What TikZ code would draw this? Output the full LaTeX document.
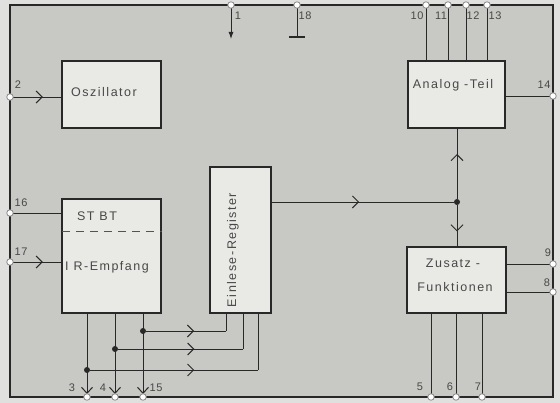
\documentclass[tikz,border=0pt]{standalone}
\usepackage{fontspec}
\setmainfont{Liberation Sans}
\newfontfamily\boxfont[LetterSpace=12]{Liberation Sans}
\newfontfamily\pinfont[LetterSpace=5]{Liberation Sans}
\usetikzlibrary{arrows.meta,decorations.markings}
\definecolor{outgray}{RGB}{224,224,222}
\definecolor{bggray}{RGB}{200,200,197}
\definecolor{boxgray}{RGB}{233,233,230}
\definecolor{ink}{RGB}{40,40,40}
\tikzset{
  blk/.style={draw=ink, line width=1.6pt, fill=boxgray, inner sep=0pt},
  wire/.style={draw=ink, line width=0.9pt},
  pinc/.style={circle, draw=ink!55, line width=0.8pt, fill=white, minimum size=6.5pt, inner sep=0pt},
  jdot/.style={circle, fill=ink, minimum size=6pt, inner sep=0pt},
  btxt/.style={font=\boxfont\fontsize{12.5}{14}\selectfont, text=ink!85, inner sep=0pt},
  ptxt/.style={font=\pinfont\fontsize{11}{12}\selectfont, text=ink!85, inner sep=0pt},
  midarr/.style={postaction={decorate}, decoration={markings,
     mark=at position #1 with {\arrow[ink]{Straight Barb[length=6pt,width=12pt,line width=1pt]}}}},
  endarr/.style={-{Straight Barb[length=6pt,width=11pt,line width=1pt]}},
}
\begin{document}
\begin{tikzpicture}[x=1pt, y=-1pt]
\useasboundingbox (0,0) rectangle (560,403);
\fill[outgray] (0,0) rectangle (560,403);
\fill[bggray] (10,5) rectangle (553,397);
\draw[ink, line width=1.5pt] (10,5) rectangle (553,397);

% blocks
\node[blk, minimum width=99pt, minimum height=67pt] (osc) at (111.5,94.5) {};
\node[blk, minimum width=97pt, minimum height=67pt] (ana) at (456.5,94.5) {};
\node[blk, minimum width=99pt, minimum height=114pt] (ir) at (111.5,256) {};
\node[blk, minimum width=61pt, minimum height=146pt] (ein) at (240.5,240) {};
\node[blk, minimum width=99pt, minimum height=66pt] (zus) at (456.5,280) {};
\draw[ink!80, line width=1pt, dash pattern=on 8pt off 6pt] (ir.west |- 0,232) ++(1,0) coordinate (dsa) -- (ir.east |- dsa);

% block texts
\node[btxt] (tosc) at (104,92) {Oszillator};
\node[btxt] (tana) at (453,85) {Analog -Teil};
\node[btxt] (tst) at (97,216) {ST BT};
\node[btxt] (tir) at (107,267) {I R-Empfang};
\node[btxt, rotate=90] (tein) at (233,250) {Einlese-Register};
\node[btxt] (tzu1) at (453,263) {Zusatz -};
\node[btxt] (tzu2) at (455,287) {Funktionen};

% junctions
\node[jdot] (j1) at (457,202) {};
\node[jdot] (d15) at (143,331) {};
\node[jdot] (d4) at (115,349) {};
\node[jdot] (d3) at (87,370) {};

% end points
\coordinate (a1) at (231,39);
\coordinate (g18) at (297,37);
\coordinate (g18l) at (289,37);
\coordinate (g18r) at (305,37);
\coordinate (e1) at (226,313);
\coordinate (e2) at (243,313);
\coordinate (e3) at (258,313);

% wires (drawn before pins)
\draw[wire, -{Latex[length=7pt,width=5pt]}] (231,5) -- (a1);
\draw[wire] (297,5) -- (g18);
\draw[ink, line width=1.8pt] (g18l) -- (g18r);
\foreach \x in {426,448,466,487} \draw[wire] (\x,5) -- (\x,61);
\draw[wire, midarr=0.64] (10,97) -- (10,97 -| osc.west);
\draw[wire] (10,213) -- (10,213 -| ir.west);
\draw[wire, midarr=0.64] (10,262) -- (10,262 -| ir.west);
\draw[wire] (ana.east |- 0,96) -- (553,96);
\draw[wire] (zus.east |- 0,264) -- (553,264);
\draw[wire] (zus.east |- 0,292) -- (553,292);
\foreach \x in {431,456,482} \draw[wire] (\x,313) -- (\x,397);
\draw[wire, midarr=0.48] (ein.east |- j1) -- (j1);
\draw[wire, midarr=0.64] (j1) -- (j1 |- ana.south);
\draw[wire, midarr=0.64] (j1) -- (j1 |- zus.north);
\foreach \x in {87,115,143} \draw[wire, endarr] (\x,313) -- (\x,394);
\draw[wire, midarr=0.6] (d15) -- (d15 -| e1);
\draw[wire] (d15 -| e1) -- (e1);
\draw[wire, midarr=0.61] (d4) -- (d4 -| e2);
\draw[wire] (d4 -| e2) -- (e2);
\draw[wire, midarr=0.62] (d3) -- (d3 -| e3);
\draw[wire] (d3 -| e3) -- (e3);

% pins
\node[pinc] (p1) at (231,5) {};
\node[pinc] (p18) at (297,5) {};
\node[pinc] (p10) at (426,5) {};
\node[pinc] (p11) at (448,5) {};
\node[pinc] (p12) at (466,5) {};
\node[pinc] (p13) at (487,5) {};
\node[pinc] (p2) at (10,97) {};
\node[pinc] (p16) at (10,213) {};
\node[pinc] (p17) at (10,262) {};
\node[pinc] (p14) at (553,96) {};
\node[pinc] (p9) at (553,264) {};
\node[pinc] (p8) at (553,292) {};
\node[pinc] (p3) at (87,397) {};
\node[pinc] (p4) at (115,397) {};
\node[pinc] (p15) at (143,397) {};
\node[pinc] (p5) at (431,397) {};
\node[pinc] (p6) at (456,397) {};
\node[pinc] (p7) at (482,397) {};

% pin labels
\node[ptxt] (l1) at (238,16) {1};
\node[ptxt] (l18) at (305,16) {18};
\node[ptxt] (l10) at (417,16) {10};
\node[ptxt] (l11) at (441,16) {11};
\node[ptxt] (l12) at (473,16) {12};
\node[ptxt] (l13) at (495,16) {13};
\node[ptxt] (l2) at (18,85) {2};
\node[ptxt] (l16) at (21,203) {16};
\node[ptxt] (l17) at (21,252) {17};
\node[ptxt] (l14) at (544,85) {14};
\node[ptxt] (l9) at (548,253) {9};
\node[ptxt] (l8) at (547,283) {8};
\node[ptxt] (l3) at (72,388) {3};
\node[ptxt] (l4) at (103,388) {4};
\node[ptxt] (l15) at (156,388) {15};
\node[ptxt] (l5) at (420,387) {5};
\node[ptxt] (l6) at (450,387) {6};
\node[ptxt] (l7) at (478,387) {7};
\end{tikzpicture}
\end{document}
